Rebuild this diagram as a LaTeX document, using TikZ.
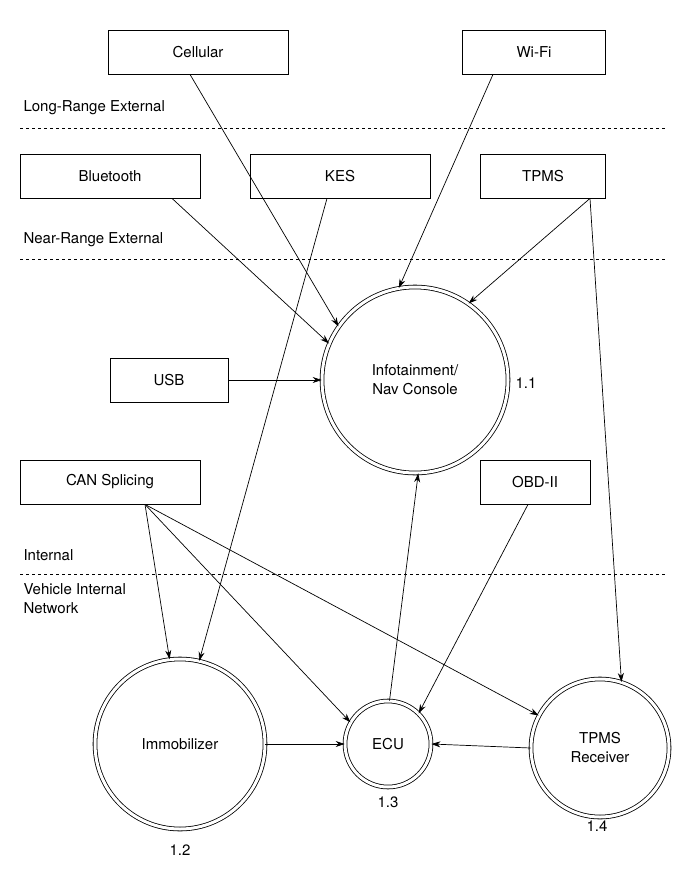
\documentclass[tikz,border=0pt]{standalone}
\usepackage{fontspec}
\setmainfont{TeX Gyre Heros}
\usetikzlibrary{arrows.meta}
\begin{document}
\begin{tikzpicture}[x=1pt,y=-1pt,
  box/.style={draw,line width=0.8pt,minimum height=44pt,inner sep=0pt,font=\fontsize{15}{17}\selectfont},
  circ/.style={draw,circle,double,double distance=3pt,line width=0.8pt,inner sep=0pt,align=center,font=\fontsize{15}{19}\selectfont},
  lab/.style={font=\fontsize{15}{19}\selectfont,anchor=west,align=left},
  num/.style={font=\fontsize{15}{17}\selectfont},
  sep/.style={dashed,line width=0.7pt},
  arr/.style={-{Stealth[length=9pt,width=6pt]},line width=0.7pt}]
\useasboundingbox (0,0) rectangle (675,870);
\fill[white] (0,0) rectangle (675,870);
\node[box,minimum width=180pt] (cell) at (198,52) {Cellular};
\node[box,minimum width=143pt] (wifi) at (534,52) {Wi-Fi};
\node[box,minimum width=180pt] (bt) at (110,176) {Bluetooth};
\node[box,minimum width=180pt] (kes) at (340,176) {KES};
\node[box,minimum width=125pt] (tpms) at (543,176) {TPMS};
\node[box,minimum width=118pt] (usb) at (169,380) {USB};
\node[box,minimum width=180pt] (can) at (110,482) {CAN Splicing};
\node[box,minimum width=110pt] (obd) at (535,482) {OBD-II};
\node[circ,minimum size=186pt] (info) at (415,380) {Infotainment/\\Nav Console};
\node[circ,minimum size=170pt] (imm) at (180,744) {Immobilizer};
\node[circ,minimum size=86pt] (ecu) at (388,744) {ECU};
\node[circ,minimum size=138pt] (tr) at (600,748) {TPMS\\Receiver};
\node[num] (n1) at (526,383) {1.1};
\node[num] (n2) at (180,850) {1.2};
\node[num] (n3) at (388,802) {1.3};
\node[num] (n4) at (597,826) {1.4};
\node[lab] (l1) at (20,108) {Long-Range External};
\node[lab] (l2) at (20,240) {Near-Range External};
\node[lab] (l3) at (20,555) {Internal};
\node[lab] (l4) at (20,599) {Vehicle Internal\\Network};
\coordinate (d1a) at (20,128); \coordinate (d1b) at (665,128);
\coordinate (d2a) at (20,259); \coordinate (d2b) at (665,259);
\coordinate (d3a) at (20,574); \coordinate (d3b) at (665,574);
\draw[sep] (d1a) -- (d1b);
\draw[sep] (d2a) -- (d2b);
\draw[sep] (d3a) -- (d3b);
\draw[arr] ([xshift=-8pt]cell.south) -- (info.145);
\draw[arr] ([xshift=-41pt]wifi.south) -- (info.100);
\draw[arr] ([xshift=62pt]bt.south) -- (info.157);
\draw[arr] ([xshift=-13pt]kes.south) -- (imm.77);
\draw[arr] ([xshift=47pt]tpms.south) -- (info.55);
\draw[arr] ([xshift=47pt]tpms.south) -- (tr.72);
\draw[arr] (usb.east) -- (info.west);
\draw[arr] ([xshift=35pt]can.south) -- (imm.97);
\draw[arr] ([xshift=35pt]can.south) -- (ecu.150);
\draw[arr] ([xshift=35pt]can.south) -- (tr.152);
\draw[arr] ([xshift=-7pt]obd.south) -- (ecu.45);
\draw[arr] (ecu.88) -- (info.272);
\draw[arr] (imm.east) -- (ecu.west);
\draw[arr] (tr.west) -- (ecu.east);
\end{tikzpicture}
\end{document}
